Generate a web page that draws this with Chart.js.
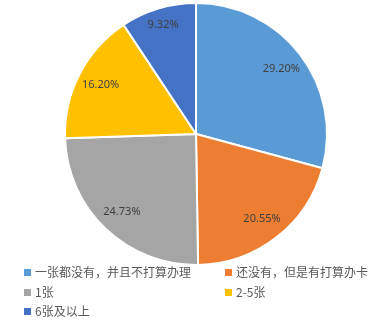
<!DOCTYPE html>
<html>
<head>
<meta charset="utf-8">
<script src="https://cdn.jsdelivr.net/npm/chart.js@4"></script>
<style>
    html, body { margin: 0; padding: 0; background: #fff; }
    #wrap { position: relative; width: 384px; height: 321px; overflow: hidden; }
    #pie { position: absolute; left: 0; top: 0; }
    .legend-item { position: absolute; font: 12px "Noto Sans CJK SC", "Noto Sans", sans-serif; color: #595959; line-height: 16px; white-space: nowrap; }
    .legend-box { display: inline-block; width: 7px; height: 7px; margin-right: 4px; vertical-align: 1px; }
</style>
</head>
<body>
<div id="wrap">
    <canvas id="pie" width="384" height="268"></canvas>
    <div id="legend"></div>
</div>
<script>
const categories = ['一张都没有，并且不打算办理', '还没有，但是有打算办卡', '1张', '2-5张', '6张及以上'];
const shares = [29.20, 20.55, 24.73, 16.20, 9.32];
const colors = ['#5B9BD5', '#ED7D31', '#A5A5A5', '#FFC000', '#4472C4'];
const shareLabels = ['29.20%', '20.55%', '24.73%', '16.20%', '9.32%'];

// labels drawn inside each slice, roughly where excel puts them
const sliceLabels = {
    id: 'sliceLabels',
    afterDatasetsDraw(chart) {
        const ctx = chart.ctx;
        const arcs = chart.getDatasetMeta(0).data;
        ctx.save();
        ctx.font = '11px "Noto Sans", sans-serif';
        ctx.fillStyle = '#404040';
        ctx.textAlign = 'center';
        ctx.textBaseline = 'middle';
        arcs.forEach((arc, i) => {
            const mid = (arc.startAngle + arc.endAngle) / 2;
            const r = arc.outerRadius * (shares[i] < 12 ? 0.87 : 0.82);
            ctx.fillText(shareLabels[i], arc.x + Math.cos(mid) * r, arc.y + Math.sin(mid) * r);
        });
        ctx.restore();
    }
};

new Chart(document.getElementById('pie').getContext('2d'), {
    type: 'pie',
    data: {
        labels: categories,
        datasets: [{
            data: shares,
            backgroundColor: colors,
            borderColor: '#ffffff',
            borderWidth: 2
        }]
    },
    options: {
        responsive: false,
        animation: false,
        layout: { padding: { top: 2, bottom: 2, left: 64, right: 56 } },
        plugins: {
            legend: { display: false },
            tooltip: { enabled: false }
        }
    },
    plugins: [sliceLabels]
});

// legend: two columns, html text
const legendPos = [[24, 264], [225, 264], [24, 284], [225, 284], [24, 303]];
const legendEl = document.getElementById('legend');
categories.forEach((name, i) => {
    const item = document.createElement('div');
    item.className = 'legend-item';
    item.style.left = legendPos[i][0] + 'px';
    item.style.top = legendPos[i][1] + 'px';
    item.innerHTML = `<span class="legend-box" style="background:${colors[i]}"></span>${name}`;
    legendEl.appendChild(item);
});
</script>
</body>
</html>
